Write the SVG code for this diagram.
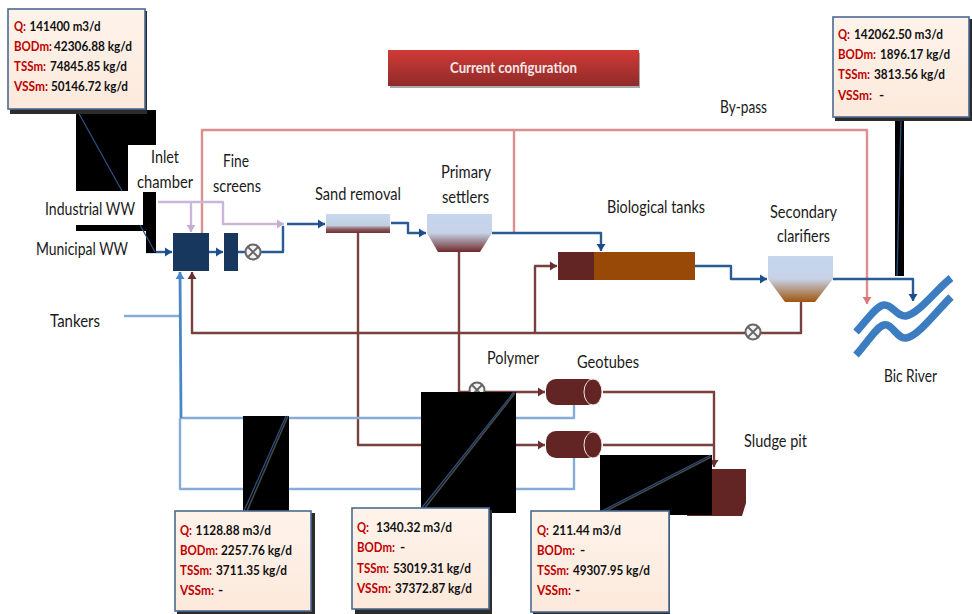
<svg xmlns="http://www.w3.org/2000/svg" width="972" height="614" viewBox="0 0 972 614">
<style>
text{font-family:Lato,"Liberation Sans",sans-serif;font-size:18px;fill:#1a1a1a}
.v{font-size:14px;font-weight:700;fill:#111}
.k{fill:#c00000;font-size:13px}
.t{fill:#f6e6e6;font-size:15px;font-weight:700}
.c{fill:none;stroke-width:2.4;stroke-linejoin:round}
.blue{stroke:#2a5b93}.brown{stroke:#7a4040}.pink{stroke:#dc8f8f}.purple{stroke:#c9b6d9}.lb{stroke:#86acd8}
.box{fill:url(#bx);stroke:#4a6a94;stroke-width:1.6}
.sh{fill:#2c2c2c}
.bk{fill:#000}
.cl1{stroke:#2a4f80;stroke-width:1.3;fill:none}
.cl2{stroke:#484848;stroke-width:1.6;fill:none}
</style>
<defs>
<filter id="soft" x="-5%" y="-5%" width="110%" height="110%"><feGaussianBlur stdDeviation=".45"/></filter>
<linearGradient id="bx" x1="0" y1="0" x2="0" y2="1"><stop offset="0" stop-color="#fef3ea"/><stop offset="1" stop-color="#fce9dc"/></linearGradient>
<linearGradient id="tt" x1="0" y1="0" x2="0" y2="1"><stop offset="0" stop-color="#d03a36"/><stop offset="1" stop-color="#8e2b29"/></linearGradient>
<linearGradient id="sa" x1="0" y1="0" x2="0" y2="1"><stop offset="0" stop-color="#c9d8ee"/><stop offset=".6" stop-color="#c2cfe2"/><stop offset=".8" stop-color="#8a5a60"/><stop offset="1" stop-color="#733030"/></linearGradient>
<linearGradient id="ps" x1="0" y1="0" x2="0" y2="1"><stop offset="0" stop-color="#c6d6ee"/><stop offset=".5" stop-color="#c6d2e6"/><stop offset="1" stop-color="#6e2a2a"/></linearGradient>
<linearGradient id="sc" x1="0" y1="0" x2="0" y2="1"><stop offset="0" stop-color="#c6d6ee"/><stop offset=".5" stop-color="#c6d2e6"/><stop offset="1" stop-color="#a0540f"/></linearGradient>
<marker id="mb" markerUnits="userSpaceOnUse" markerWidth="10" markerHeight="10" refX="8" refY="5" orient="auto"><path d="M1 .5L8 5L1 9.500z" fill="#1f4e8c"/></marker>
<marker id="mr" markerUnits="userSpaceOnUse" markerWidth="10" markerHeight="10" refX="8" refY="5" orient="auto"><path d="M1 .5L8 5L1 9.500z" fill="#6b2f2f"/></marker>
<marker id="mp" markerUnits="userSpaceOnUse" markerWidth="10" markerHeight="10" refX="8" refY="5" orient="auto"><path d="M1 .5L8 5L1 9.500z" fill="#d9787a"/></marker>
<marker id="mu" markerUnits="userSpaceOnUse" markerWidth="10" markerHeight="10" refX="8" refY="5" orient="auto"><path d="M1 .5L8 5L1 9.500z" fill="#c4aed4"/></marker>
<marker id="ml" markerUnits="userSpaceOnUse" markerWidth="10" markerHeight="10" refX="8" refY="5" orient="auto"><path d="M1 .5L8 5L1 9.500z" fill="#4a86c8"/></marker>
<g id="valve"><circle r="7.500" fill="#f2f2f2" stroke="#666" stroke-width="2"/><path d="M-5-5L5 5M-5 5L5-5" stroke="#666" stroke-width="1.800"/></g>
</defs>
<rect width="972" height="614" fill="#fff"/>
<g id="connectors" filter="url(#soft)">
<path class="c pink" d="M202 233V130H867V304" marker-end="url(#mp)"/>
<path class="c pink" d="M514 130V233"/>
<path class="c purple" d="M158 202H223V224H284" marker-end="url(#mu)"/>
<path class="c purple" d="M191 202V232" marker-end="url(#mu)"/>
<path class="c blue" d="M146 252H172" marker-end="url(#mb)"/>
<path class="c blue" d="M209 252H223" marker-end="url(#mb)"/>
<path class="c blue" d="M238 252H283V226"/>
<path class="c blue" d="M287 224H325" marker-end="url(#mb)"/>
<path class="c blue" d="M391 223H408V233H426" marker-end="url(#mb)"/>
<path class="c blue" d="M492 233H601V251" marker-end="url(#mb)"/>
<path class="c blue" d="M695 266H731V279H767" marker-end="url(#mb)"/>
<path class="c blue" d="M833 279H913V301" marker-end="url(#mb)"/>
<path class="c brown" d="M801 302V333H192V272" marker-end="url(#mr)"/>
<path class="c brown" d="M535 333V266H557" marker-end="url(#mr)"/>
<path class="c brown" d="M358 233V445H545" marker-end="url(#mr)"/>
<path class="c brown" d="M459 252V392H545" marker-end="url(#mr)"/>
<path class="c brown" d="M603 392H714V467" marker-end="url(#mr)"/>
<path class="c brown" d="M603 445H714"/>
<path class="c lb" stroke-width="3" d="M124 316H180"/>
<path class="c lb" d="M180 418V489H574V458"/>
<path class="c lb" d="M180 418H574V405"/>
<path d="M181 418L180 272" stroke="#4a86c8" stroke-width="2.800" fill="none" marker-end="url(#ml)"/>
<use href="#valve" x="253" y="252"/>
<use href="#valve" x="753" y="332"/>
<use href="#valve" x="477" y="390"/>
</g>
<g id="inlet-chamber"><rect x="173" y="233" width="36" height="38" fill="#17375e"/><text x="151" y="163" textLength="28" lengthAdjust="spacingAndGlyphs">Inlet</text><text x="137" y="188" textLength="56" lengthAdjust="spacingAndGlyphs">chamber</text></g>
<g id="fine-screens"><rect x="224" y="233" width="14" height="38" fill="#17375e"/><text x="223" y="167" textLength="26" lengthAdjust="spacingAndGlyphs">Fine</text><text x="213" y="192" textLength="48" lengthAdjust="spacingAndGlyphs">screens</text></g>
<g id="sand-removal"><rect x="326" y="214" width="64" height="19" fill="url(#sa)"/><text x="315" y="200" textLength="86" lengthAdjust="spacingAndGlyphs">Sand removal</text></g>
<g id="primary-settlers"><path d="M427 214H492V233L480 252H438L427 233z" fill="url(#ps)"/><text x="441" y="178" textLength="50" lengthAdjust="spacingAndGlyphs">Primary</text><text x="442" y="203" textLength="47" lengthAdjust="spacingAndGlyphs">settlers</text></g>
<g id="biological-tanks"><rect x="558" y="252" width="36" height="28" fill="#632523"/><rect x="594" y="252" width="101" height="28" fill="#984807"/><text x="607" y="213" textLength="98" lengthAdjust="spacingAndGlyphs">Biological tanks</text></g>
<g id="secondary-clarifiers"><path d="M768 256H833V279L815 302H785L768 279z" fill="url(#sc)"/><text x="770" y="218" textLength="67" lengthAdjust="spacingAndGlyphs">Secondary</text><text x="777" y="242" textLength="53" lengthAdjust="spacingAndGlyphs">clarifiers</text></g>
<g id="bic-river"><path d="M856 332C868 319 876 306 884 305C892 304 897 317 906 316C918 314 935 291 951 278M856 355C868 342 876 327 884 325C892 323 897 339 906 338C918 336 935 313 951 297" fill="none" stroke="#3c7cc0" stroke-width="7.500"/><text x="884" y="382" textLength="53" lengthAdjust="spacingAndGlyphs">Bic River</text></g>
<g id="geotube-1"><rect x="546" y="379" width="52" height="26" rx="10" fill="#632523"/><ellipse cx="593" cy="392" rx="9" ry="13" fill="#632523" stroke="#f2e6e6"/><text x="577" y="368" textLength="62" lengthAdjust="spacingAndGlyphs">Geotubes</text></g>
<g id="geotube-2"><rect x="546" y="431" width="52" height="27" rx="10" fill="#632523"/><ellipse cx="593" cy="445" rx="9" ry="13" fill="#632523" stroke="#f2e6e6"/></g>
<g id="sludge-pit"><path d="M687 469H746V503L742 516H687z" fill="#632523"/><text x="744" y="447" textLength="63" lengthAdjust="spacingAndGlyphs">Sludge pit</text></g>
<g id="labels">
<text x="45" y="215" textLength="90" lengthAdjust="spacingAndGlyphs">Industrial WW</text>
<text x="36" y="255" textLength="92" lengthAdjust="spacingAndGlyphs">Municipal WW</text>
<text x="50" y="327" textLength="50" lengthAdjust="spacingAndGlyphs">Tankers</text>
<text x="720" y="113" textLength="47" lengthAdjust="spacingAndGlyphs">By-pass</text>
<text x="487" y="364" textLength="52" lengthAdjust="spacingAndGlyphs">Polymer</text>
</g>
<g id="title"><rect x="390" y="53" width="250" height="35" fill="#aaa"/><rect x="388" y="50" width="251" height="36" fill="url(#tt)"/><text class="t" x="450" y="73" textLength="127" lengthAdjust="spacingAndGlyphs">Current configuration</text></g>
<g id="callout-influent">
<path class="bk" d="M76 110H156V145H128V191H76zM143 192H156V253H146V231H76V225H143z"/>
<path class="cl1" d="M77 110L122 191M140 225L155 252"/>
<rect class="sh" x="10" y="11" width="137" height="103"/><rect class="box" x="8" y="9" width="137" height="100"/>
<text class="v k" x="14" y="31" textLength="12" lengthAdjust="spacingAndGlyphs">Q:</text><text class="v" x="29.500" y="31" textLength="71" lengthAdjust="spacingAndGlyphs">141400 m3/d</text>
<text class="v k" x="14" y="51" textLength="38" lengthAdjust="spacingAndGlyphs">BODm:</text><text class="v" x="54" y="51" textLength="78" lengthAdjust="spacingAndGlyphs">42306.88 kg/d</text>
<text class="v k" x="14" y="71" textLength="32" lengthAdjust="spacingAndGlyphs">TSSm:</text><text class="v" x="50" y="71" textLength="77" lengthAdjust="spacingAndGlyphs">74845.85 kg/d</text>
<text class="v k" x="14" y="91" textLength="34" lengthAdjust="spacingAndGlyphs">VSSm:</text><text class="v" x="51" y="91" textLength="77" lengthAdjust="spacingAndGlyphs">50146.72 kg/d</text>
</g>
<g id="callout-effluent">
<rect class="bk" x="895" y="118" width="9" height="158"/><path class="cl1" d="M901 120L897 276"/>
<rect class="sh" x="835" y="19" width="137" height="102"/><rect class="box" x="833" y="17" width="136" height="100"/>
<text class="v k" x="838" y="39" textLength="12" lengthAdjust="spacingAndGlyphs">Q:</text><text class="v" x="854" y="39" textLength="89" lengthAdjust="spacingAndGlyphs">142062.50 m3/d</text>
<text class="v k" x="838" y="59" textLength="38" lengthAdjust="spacingAndGlyphs">BODm:</text><text class="v" x="880" y="59" textLength="70" lengthAdjust="spacingAndGlyphs">1896.17 kg/d</text>
<text class="v k" x="838" y="79" textLength="32" lengthAdjust="spacingAndGlyphs">TSSm:</text><text class="v" x="874" y="79" textLength="71" lengthAdjust="spacingAndGlyphs">3813.56 kg/d</text>
<text class="v k" x="838" y="100" textLength="34" lengthAdjust="spacingAndGlyphs">VSSm:</text><text class="v" x="879" y="100">-</text>
</g>
<g id="callout-tankers">
<rect class="bk" x="243" y="416" width="46" height="95"/><path class="cl1" d="M244 511L286 416"/><path class="cl2" d="M247 511L288 416"/>
<rect class="sh" x="177" y="513" width="138" height="101"/><rect class="box" x="175" y="511" width="136" height="100"/>
<text class="v k" x="180" y="535" textLength="12" lengthAdjust="spacingAndGlyphs">Q:</text><text class="v" x="195.500" y="535" textLength="75.500" lengthAdjust="spacingAndGlyphs">1128.88 m3/d</text>
<text class="v k" x="180" y="555" textLength="38" lengthAdjust="spacingAndGlyphs">BODm:</text><text class="v" x="221" y="555" textLength="71" lengthAdjust="spacingAndGlyphs">2257.76 kg/d</text>
<text class="v k" x="180" y="575" textLength="32" lengthAdjust="spacingAndGlyphs">TSSm:</text><text class="v" x="216" y="575" textLength="71" lengthAdjust="spacingAndGlyphs">3711.35 kg/d</text>
<text class="v k" x="180" y="595" textLength="34" lengthAdjust="spacingAndGlyphs">VSSm:</text><text class="v" x="218" y="595">-</text>
</g>
<g id="callout-geotube-in">
<rect class="bk" x="421" y="392" width="95" height="121"/><path class="cl1" d="M421 509L514 392"/><path class="cl2" d="M424 509L515 393"/>
<rect class="sh" x="355" y="510" width="137" height="104"/><rect class="box" x="352" y="508" width="137" height="101"/>
<text class="v k" x="357" y="532" textLength="12" lengthAdjust="spacingAndGlyphs">Q:</text><text class="v" x="376" y="532" textLength="76" lengthAdjust="spacingAndGlyphs">1340.32 m3/d</text>
<text class="v k" x="357" y="552" textLength="38" lengthAdjust="spacingAndGlyphs">BODm:</text><text class="v" x="400" y="552">-</text>
<text class="v k" x="357" y="573" textLength="32" lengthAdjust="spacingAndGlyphs">TSSm:</text><text class="v" x="393" y="573" textLength="78" lengthAdjust="spacingAndGlyphs">53019.31 kg/d</text>
<text class="v k" x="357" y="593" textLength="34" lengthAdjust="spacingAndGlyphs">VSSm:</text><text class="v" x="395" y="593" textLength="77" lengthAdjust="spacingAndGlyphs">37372.87 kg/d</text>
</g>
<g id="callout-sludge">
<rect class="bk" x="600" y="455" width="112" height="60"/><path class="cl1" d="M602 511L711 455"/><path class="cl2" d="M606 511L711 457"/>
<rect class="sh" x="533" y="513" width="137" height="101"/><rect class="box" x="531" y="511" width="138" height="101"/>
<text class="v k" x="537" y="535" textLength="12" lengthAdjust="spacingAndGlyphs">Q:</text><text class="v" x="552.500" y="535" textLength="68.500" lengthAdjust="spacingAndGlyphs">211.44 m3/d</text>
<text class="v k" x="537" y="555" textLength="38" lengthAdjust="spacingAndGlyphs">BODm:</text><text class="v" x="580" y="555">-</text>
<text class="v k" x="537" y="575" textLength="32" lengthAdjust="spacingAndGlyphs">TSSm:</text><text class="v" x="573" y="575" textLength="77" lengthAdjust="spacingAndGlyphs">49307.95 kg/d</text>
<text class="v k" x="537" y="595" textLength="34" lengthAdjust="spacingAndGlyphs">VSSm:</text><text class="v" x="575" y="595">-</text>
</g>
</svg>
